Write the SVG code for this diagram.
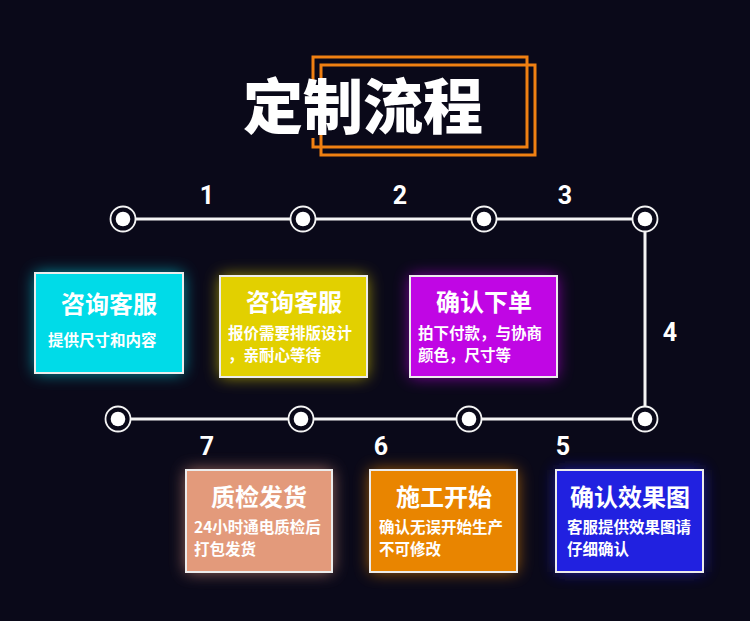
<svg xmlns="http://www.w3.org/2000/svg" width="750" height="621" viewBox="0 0 750 621">
<defs>
<filter id="glow" x="-30%" y="-30%" width="160%" height="160%">
<feGaussianBlur stdDeviation="8"/>
</filter>
<style>
.bg{fill:#0a0919}
.frame{fill:none;stroke:#f08012;stroke-width:3}
.line{stroke:#f4f4f4;stroke-width:3;fill:none}
.ring{fill:#0a0919;stroke:#f4f4f4;stroke-width:1.8}
.dot{fill:#ffffff}
.num{font-family:Roboto,"Liberation Sans",sans-serif;font-weight:700;font-size:25px;fill:#ffffff;text-anchor:middle}
.box{stroke:#ececec;stroke-width:2}
.halo{filter:url(#glow);opacity:0.75}
.t{font-family:"Noto Sans CJK SC","Noto Sans",sans-serif;font-weight:700;font-size:24px;fill:#ffffff;text-anchor:middle}
.s{font-family:"Noto Sans CJK SC","Noto Sans",sans-serif;font-weight:700;font-size:15.5px;fill:#ffffff}
.title{font-family:"Noto Sans CJK SC","Noto Sans",sans-serif;font-weight:900;font-size:60px;fill:#ffffff;text-anchor:middle}
</style>
</defs>
<rect class="bg" x="0" y="0" width="750" height="621"/>

<g id="title">
<path class="frame" d="M313 82 V57 H527 V147 H313 V138"/>
<path class="frame" d="M321 78 V65 H535 V155 H321 V135"/>
<text class="title" x="363" y="129">定制流程</text>
</g>

<g id="connectors">
<path class="line" d="M123 219 H645 V419 H118"/>
</g>

<g id="steps">
<g id="n1"><circle class="ring" cx="123" cy="219" r="12.5"/><circle class="dot" cx="123" cy="219" r="7.3"/></g>
<g id="n2"><circle class="ring" cx="303" cy="219" r="12.5"/><circle class="dot" cx="303" cy="219" r="7.3"/></g>
<g id="n3"><circle class="ring" cx="484" cy="219" r="12.5"/><circle class="dot" cx="484" cy="219" r="7.3"/></g>
<g id="n4"><circle class="ring" cx="645" cy="219" r="12.5"/><circle class="dot" cx="645" cy="219" r="7.3"/></g>
<g id="n5"><circle class="ring" cx="645" cy="419" r="12.5"/><circle class="dot" cx="645" cy="419" r="7.3"/></g>
<g id="n6"><circle class="ring" cx="469" cy="419" r="12.5"/><circle class="dot" cx="469" cy="419" r="7.3"/></g>
<g id="n7"><circle class="ring" cx="301" cy="419" r="12.5"/><circle class="dot" cx="301" cy="419" r="7.3"/></g>
<g id="n8"><circle class="ring" cx="118" cy="419" r="12.5"/><circle class="dot" cx="118" cy="419" r="7.3"/></g>
</g>

<g id="numbers">
<text class="num" x="207" y="204">1</text>
<text class="num" x="400" y="204">2</text>
<text class="num" x="565" y="204">3</text>
<text class="num" x="670" y="341">4</text>
<text class="num" x="563" y="455">5</text>
<text class="num" x="381" y="455">6</text>
<text class="num" x="207" y="455">7</text>
</g>

<g id="box1">
<rect class="halo" x="35" y="273" width="148" height="100" fill="#00c8d8"/>
<rect class="box" x="35" y="273" width="148" height="100" fill="#00dbe8"/>
<text class="t" x="109" y="313">咨询客服</text>
<text class="s" x="48" y="346">提供尺寸和内容</text>
</g>

<g id="box2">
<rect class="halo" x="220" y="276" width="147" height="101" fill="#d8c800"/>
<rect class="box" x="220" y="276" width="147" height="101" fill="#e2d000"/>
<text class="t" x="294" y="311">咨询客服</text>
<text class="s" x="228" y="339">报价需要排版设计</text>
<text class="s" x="228" y="361">，亲耐心等待</text>
</g>

<g id="box3">
<rect class="halo" x="410" y="276" width="147" height="101" fill="#b000d8"/>
<rect class="box" x="410" y="276" width="147" height="101" fill="#c006e4"/>
<text class="t" x="484" y="311">确认下单</text>
<text class="s" x="418" y="339">拍下付款，与协商</text>
<text class="s" x="418" y="361">颜色，尺寸等</text>
</g>

<g id="box7">
<rect class="halo" x="186" y="470" width="146" height="102" fill="#d89078"/>
<rect class="box" x="186" y="470" width="146" height="102" fill="#e39a7b"/>
<text class="t" x="259" y="506">质检发货</text>
<text class="s" x="194" y="533">24小时通电质检后</text>
<text class="s" x="194" y="555">打包发货</text>
</g>

<g id="box6">
<rect class="halo" x="370" y="470" width="147" height="102" fill="#e08000"/>
<rect class="box" x="370" y="470" width="147" height="102" fill="#e98500"/>
<text class="t" x="444" y="506">施工开始</text>
<text class="s" x="379" y="533">确认无误开始生产</text>
<text class="s" x="379" y="555">不可修改</text>
</g>

<g id="box5">
<rect class="halo" x="556" y="470" width="147" height="102" fill="#2020d8"/>
<rect class="box" x="556" y="470" width="147" height="102" fill="#2121e0"/>
<text class="t" x="630" y="506">确认效果图</text>
<text class="s" x="567" y="533">客服提供效果图请</text>
<text class="s" x="567" y="555">仔细确认</text>
</g>
</svg>
